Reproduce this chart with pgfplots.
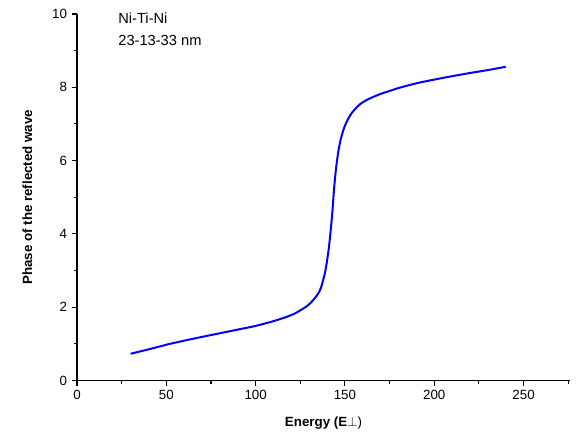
\documentclass[border=0pt]{standalone}
\usepackage{pgfplots}
\pgfplotsset{compat=1.18}
\usepackage{fontspec}
\setmainfont{Liberation Sans}
\usetikzlibrary{calc}
\begin{document}
\begin{tikzpicture}
\begin{axis}[
  scale only axis,
  width=369.75pt, height=274.9pt,
  xmin=0, xmax=276, ymin=0, ymax=10,
  axis x line*=bottom, axis y line*=left,
  axis line style={-, line width=0.8pt, black},
  xtick={0,50,...,250}, ytick={0,2,...,10},
  minor xtick={25,75,...,275}, minor ytick={1,3,...,9},
  tick align=outside,
  major tick length=4pt, minor tick length=2.5pt,
  every tick/.style={black, line width=0.8pt},
  tick label style={font=\fontsize{10}{12}\selectfont},
  /pgf/number format/assume math mode=true,
  xlabel={\textbf{Energy (E}$\perp$)},
  ylabel={\textbf{Phase of the reflected wave}},
  label style={font=\fontsize{10}{12}\selectfont},
  xlabel style={yshift=-6pt},
  ylabel style={yshift=8pt},
  clip=false,
]
\addplot[blue, line width=1.5pt, smooth, tension=0.4] coordinates {
(30,0.73) (40,0.85) (52,1.0) (65,1.14) (80,1.29) (90,1.39) (100,1.49)
(110,1.62) (117,1.73) (122,1.83) (126.5,1.96) (129,2.04) (131,2.13)
(133,2.24) (135,2.37) (136.5,2.52) (137.8,2.74) (139,2.98) (140,3.27)
(141,3.62) (142,4.08) (143,4.62) (143.7,5.1) (144.5,5.55) (145.3,5.9)
(146.3,6.25) (147.5,6.55) (149,6.82) (150.5,7.01) (152,7.16) (154,7.31)
(156.5,7.45) (159,7.56) (162,7.65) (165.5,7.73) (170,7.82) (175,7.9)
(180,7.98) (190,8.11) (200,8.21) (208.5,8.29) (220,8.39) (230,8.47) (240,8.56)
};
\node[anchor=north west, align=left, font=\fontsize{11}{17}\selectfont, inner sep=0pt] at (axis cs:23,10.05) {Ni-Ti-Ni\\23-13-33 nm};
\end{axis}
\pgfresetboundingbox
\path ($(current axis.south west)+(-57.75pt,-46pt)$) rectangle ($(current axis.north east)+(4.5pt,10.5pt)$);
\end{tikzpicture}
\end{document}
